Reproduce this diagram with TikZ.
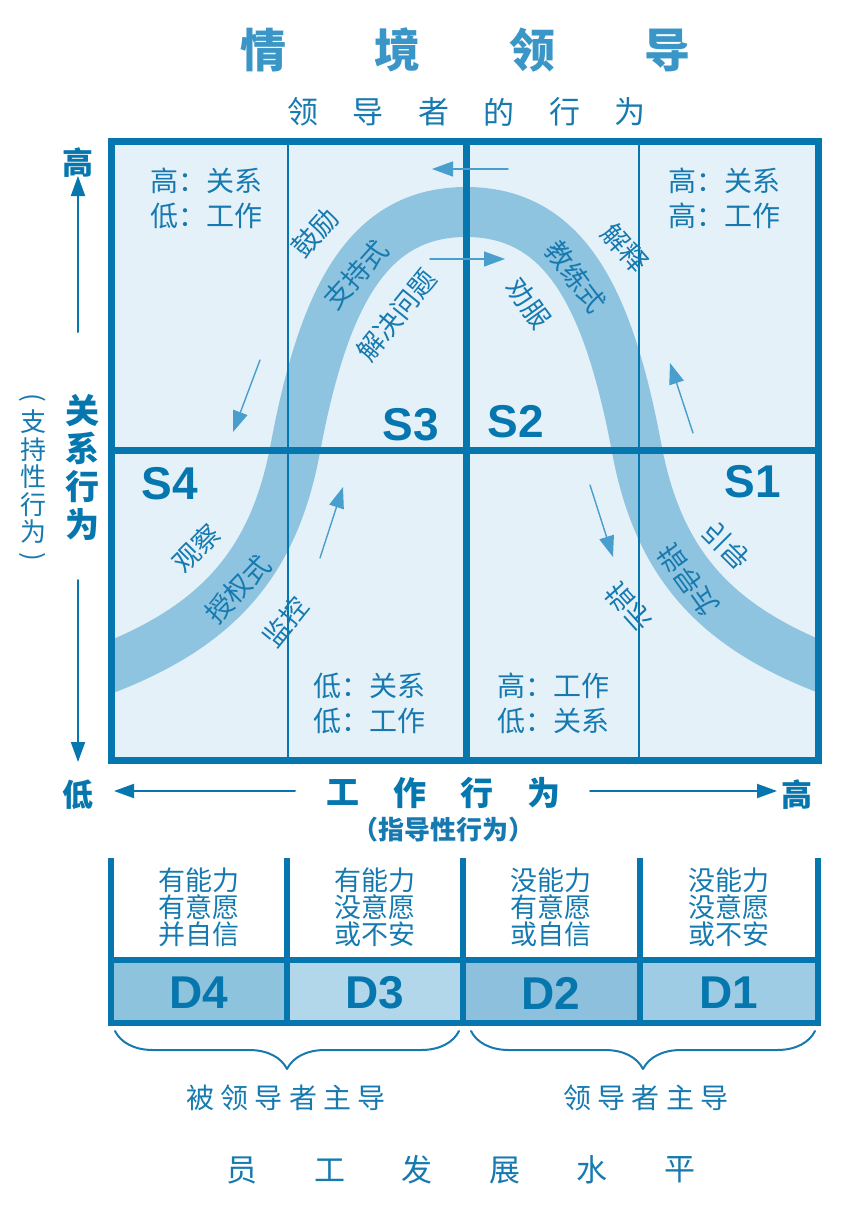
\documentclass[tikz,border=0pt]{standalone}
\usepackage{fontspec}
\setmainfont{Noto Sans CJK SC}
\newfontfamily\latfont{Liberation Sans}
\usetikzlibrary{arrows.meta}
\usetikzlibrary{decorations.pathreplacing}

\definecolor{frameblue}{RGB}{6,119,174}
\definecolor{textblue}{RGB}{22,122,176}
\definecolor{titleblue}{RGB}{58,150,198}
\definecolor{arrowblue}{RGB}{72,158,204}
\definecolor{bandblue}{RGB}{142,196,223}
\definecolor{cellbg}{RGB}{229,241,248}
\definecolor{dfour}{RGB}{142,195,222}
\definecolor{dthree}{RGB}{178,215,235}
\definecolor{dtwo}{RGB}{140,192,220}
\definecolor{done}{RGB}{158,204,228}

\newcommand{\fsz}[1]{\fontsize{#1}{#1}\selectfont}

\begin{document}
\begin{tikzpicture}[x=1pt,y=-1pt,line cap=round,line join=round,
    >={Triangle[length=20pt,width=14pt]},
    txt/.style={inner sep=0pt,text=textblue},
    quad/.style={txt,align=left,font=\fontsize{28}{35}\selectfont},
    sname/.style={inner sep=0pt,text=frameblue,font=\latfont\bfseries\fsz{46}},
    bandtxt/.style={txt,font=\fsz{27}},
    axlab/.style={inner sep=0pt,text=frameblue,font=\bfseries\fsz{31}},
    frame/.style={draw=frameblue,line width=7pt,line cap=rect,line join=miter},
    grid/.style={draw=frameblue,line width=1.3pt},
    qarrow/.style={->,draw=arrowblue,line width=1.4pt,>={Triangle[length=21pt,width=15pt]}},
    axarrow/.style={->,draw=frameblue,line width=2pt},
    ctxt/.style={txt,align=center,font=\fontsize{27}{27}\selectfont},
    dname/.style={inner sep=0pt,text=frameblue,font=\latfont\bfseries\fsz{46}},
    brc/.style={draw=textblue,line width=2pt,decorate,decoration={brace,mirror,amplitude=38pt}},
    blab/.style={txt,font=\fsz{28}\addfontfeature{LetterSpace=22}}]
        \useasboundingbox[fill=white] (0,0) rectangle (865,1228);
        % titles
        \foreach \c [count=\i] in {情,境,领,导}
        \node[inner sep=0pt,text=titleblue,font=\bfseries\fsz{46}] (ttl\i) at ({263+134.7*(\i-1)},50) {\c};
        \foreach \c [count=\i] in {领,导,者,的,行,为}
        \node[txt,font=\fsz{31}] (sub\i) at ({303+65.4*(\i-1)},112) {\c};
        % quadrants
        \fill[cellbg] (111,141) rectangle (818,760);
        \begin{scope}
        \clip (111,141) rectangle (818,760);
        \draw[bandblue,line width=50pt,line cap=butt] (86,677) -- (111,667)
          .. controls (221,623) and (274,560) .. (295,450)
          .. controls (323,300) and (366,212) .. (466,212)
          .. controls (566,212) and (609,300) .. (637,450)
          .. controls (658,560) and (711,623) .. (821,667) -- (846,677);
        \end{scope}
        \draw[grid] (288,141) -- (288,760);
        \draw[grid] (639,141) -- (639,760);
        \draw[frame] (111,141) rectangle (818,760);
        \draw[frame] (466,141) -- (466,760);
        \draw[frame] (111,450) -- (818,450);
        \node[quad,anchor=west] (q3) at (150,198) {高：关系\\低：工作};
        \node[quad,anchor=west] (q2) at (668,198) {高：关系\\高：工作};
        \node[quad,anchor=west] (q4) at (313,703) {低：关系\\低：工作};
        \node[quad,anchor=west] (q1) at (497,703) {高：工作\\低：关系};
        \node[sname] (s3) at (411,425) {S3};
        \node[sname] (s2) at (516,422) {S2};
        \node[sname] (s4) at (170,484) {S4};
        \node[sname] (s1) at (753,482) {S1};
        % labels along the curve
        \node[bandtxt,rotate=48] (gl) at (315,233) {鼓励};
        \node[bandtxt,rotate=48] (zc) at (356,275) {支持式};
        \node[bandtxt,rotate=51] (jj) at (397,315) {解决问题};
        \node[bandtxt,rotate=-53] (jl) at (576,277) {教练式};
        \node[bandtxt,rotate=-49] (js) at (625,248) {解释};
        \node[bandtxt,rotate=-54] (qf) at (529,303) {劝服};
        \node[bandtxt,rotate=45] (gc) at (196,548) {观察};
        \node[bandtxt,rotate=46] (sq) at (238,589) {授权式};
        \node[bandtxt,rotate=51] (jk) at (285,622) {监控};
        \node[bandtxt,rotate=-45,yscale=-1] (yd) at (726,546) {引导};
        \node[bandtxt,rotate=-54,yscale=-1] (zd) at (688,580) {指导式};
        \node[bandtxt,rotate=-48,yscale=-1] (zs) at (629,607) {指示};
        % small arrows
        \coordinate (ta1) at (508,169); \coordinate (ta2) at (432,169);
        \coordinate (ma1) at (430,259); \coordinate (ma2) at (505,259);
        \coordinate (la1) at (260,360); \coordinate (la2) at (233,432);
        \coordinate (ba1) at (320,558); \coordinate (ba2) at (343,487);
        \coordinate (ra1) at (590,485); \coordinate (ra2) at (613,557);
        \coordinate (ua1) at (693,433); \coordinate (ua2) at (670,363);
        \foreach \a in {ta,ma,la,ba,ra,ua}
        \draw[qarrow] (\a1) -- (\a2);
        % axes
        \node[axlab] (yhi) at (78,163) {高};
        \node[axlab] (lo) at (78,795) {低};
        \node[axlab] (xhi) at (797,795) {高};
        \node[txt,text=frameblue,align=center,font=\bfseries\fontsize{34}{38}\selectfont] (ylab) at (82,467) {关\\系\\行\\为};
        \node[txt,align=center,font=\fontsize{26}{27.5}\selectfont] (ysub) at (33,477) {支\\持\\性\\行\\为};
        \node[txt,font=\fsz{26},rotate=-90] (yp1) at (33,398) {(};
        \node[txt,font=\fsz{26},rotate=-90] (yp2) at (33,557) {)};
        \coordinate (yu1) at (78,332); \coordinate (yu2) at (78,176);
        \coordinate (yd1) at (78,580); \coordinate (yd2) at (78,762);
        \draw[axarrow] (yu1) -- (yu2);
        \draw[axarrow] (yd1) -- (yd2);
        \foreach \c [count=\i] in {工,作,行,为}
        \node[txt,text=frameblue,font=\bfseries\fsz{33}] (xt\i) at ({343+67*(\i-1)},793) {\c};
        \node[txt,font=\bfseries\fsz{26}] (xsub) at (443,830) {（指导性行为）};
        \coordinate (xl1) at (295,791); \coordinate (xl2) at (114,791);
        \coordinate (xr1) at (590,791); \coordinate (xr2) at (777,791);
        \draw[axarrow] (xl1) -- (xl2);
        \draw[axarrow] (xr1) -- (xr2);
        % development levels
        \fill[dfour] (111,960) rectangle (287,1023);
        \fill[dthree] (287,960) rectangle (463,1023);
        \fill[dtwo] (463,960) rectangle (640,1023);
        \fill[done] (640,960) rectangle (818,1023);
        \foreach \x in {111,287,463,640,818}
        \draw[frame,line width=6pt,line cap=butt] (\x,858) -- (\x,1026);
        \draw[frame,line width=6pt] (111,960) -- (818,960);
        \draw[frame,line width=6pt] (111,1023) -- (818,1023);
        \node[ctxt] (c4) at (199,907) {有能力\\有意愿\\并自信};
        \node[ctxt] (c3) at (375,907) {有能力\\没意愿\\或不安};
        \node[ctxt] (c2) at (551,907) {没能力\\有意愿\\或自信};
        \node[ctxt] (c1) at (729,907) {没能力\\没意愿\\或不安};
        \node[dname] (d4) at (199,993) {D4};
        \node[dname] (d3) at (375,993) {D3};
        \node[dname] (d2) at (551,993) {D2};
        \node[dname] (d1) at (729,993) {D1};
        \coordinate (bl1) at (115,1031); \coordinate (bl2) at (459,1031);
        \coordinate (br1) at (471,1031); \coordinate (br2) at (815,1031);
        \draw[brc] (bl1) -- (bl2);
        \draw[brc] (br1) -- (br2);
        \node[blab] (lead1) at (286,1098) {被领导者主导};
        \node[blab] (lead2) at (646,1098) {领导者主导};
        \foreach \c [count=\i] in {员,工,发,展,水,平}
        \node[txt,font=\fsz{31}] (lvl\i) at ({242+87.6*(\i-1)},1170) {\c};
      \end{tikzpicture}
\end{document}
